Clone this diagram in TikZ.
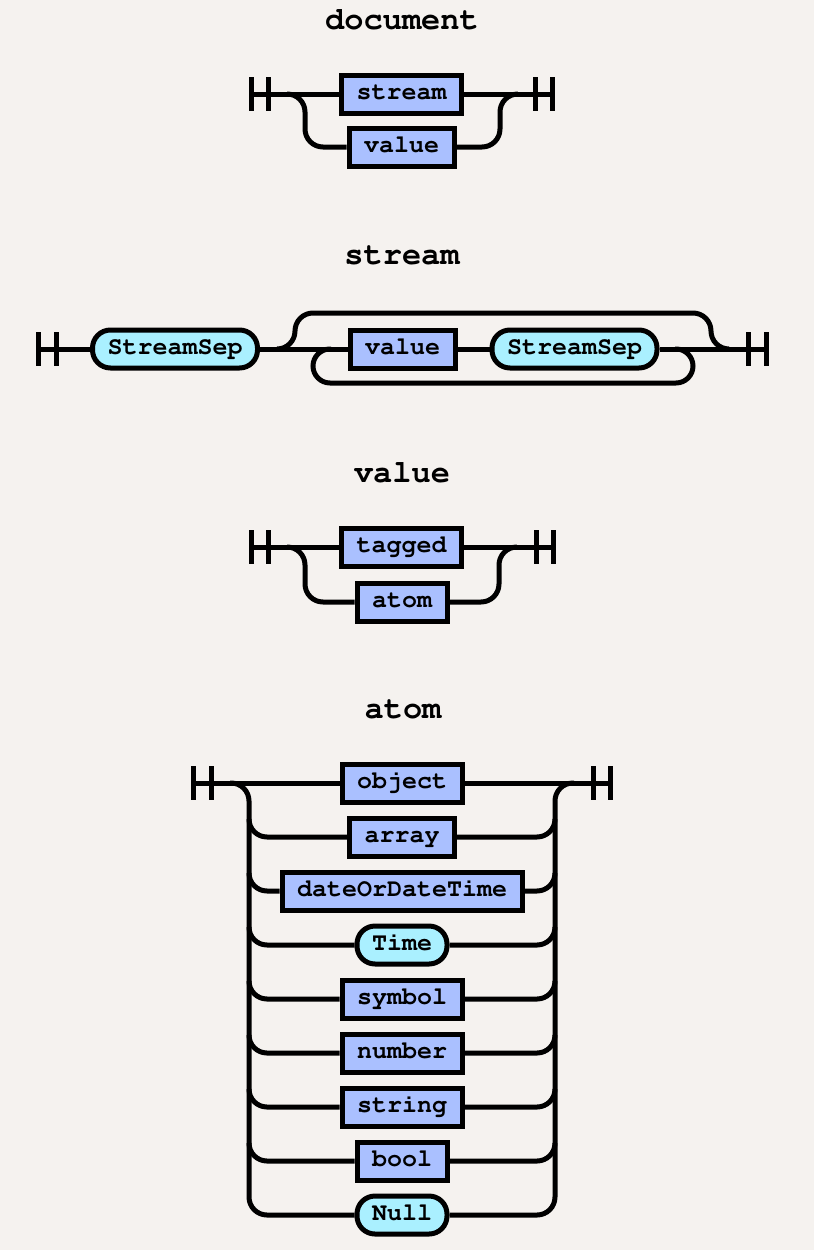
\documentclass[tikz,border=0pt]{standalone}
\usepackage[T1]{fontenc}
\usepackage{courier}
\definecolor{bg}{RGB}{245,242,239}
\definecolor{ntfill}{RGB}{170,192,255}
\definecolor{tfill}{RGB}{170,240,255}

\begin{document}
\begin{tikzpicture}[x=1pt,y=-1pt,line width=5pt,
	ntbox/.style={rectangle,draw,fill=ntfill,inner xsep=15pt,inner ysep=0pt,minimum height=38pt,
		text height=16pt,text depth=5pt,font=\fontsize{25}{30}\selectfont\ttfamily\bfseries},
	tbox/.style={ntbox,fill=tfill,rounded corners=18pt},
	heading/.style={font=\fontsize{32}{38}\selectfont\ttfamily\bfseries},
	track/.style={rounded corners=18pt}]

		\fill[bg] (0,0) rectangle (814,1250);
		\useasboundingbox (0,0) rectangle (814,1250);

		% document
		\node(t1) at (402,20)[heading]{document};
		\coordinate(d0) at (251,94);
		\coordinate(d3) at (552,94);
		\node(d1) at (401.5,94)[ntbox]{stream};
		\node(d2) at (401.5,147)[ntbox]{value};
		\draw (d0) -- (d1);
		\draw (d1) -- (d3);
		\draw[track] (287,94) -| (305,147) -- (d2.west);
		\draw[track] (d2.east) -| (500,94) -- (518,94);
		\draw ([yshift=17pt]d0) -- ([yshift=-17pt]d0);
		\draw ([xshift=17pt,yshift=17pt]d0) -- ([xshift=17pt,yshift=-17pt]d0);
		\draw ([yshift=17pt]d3) -- ([yshift=-17pt]d3);
		\draw ([xshift=-17pt,yshift=17pt]d3) -- ([xshift=-17pt,yshift=-17pt]d3);

		% stream
		\node(t2) at (402,256)[heading]{stream};
		\coordinate(s0) at (38,349);
		\coordinate(s4) at (766,349);
		\node(s1) at (175,349)[tbox]{StreamSep};
		\node(s2) at (402.5,349)[ntbox]{value};
		\node(s3) at (574.5,349)[tbox]{StreamSep};
		\draw (s0) -- (s1);
		\draw (s1) -- (s2);
		\draw (s2) -- (s3);
		\draw (s3) -- (s4);
		\draw[track] (277,349) -| (295,313) -| (711,349) -- (729,349);
		\draw[rounded corners=17pt] (675,349) -| (693,383) -| (313,349) -- (331,349);
		\draw ([yshift=17pt]s0) -- ([yshift=-17pt]s0);
		\draw ([xshift=18pt,yshift=17pt]s0) -- ([xshift=18pt,yshift=-17pt]s0);
		\draw ([yshift=17pt]s4) -- ([yshift=-17pt]s4);
		\draw ([xshift=-18pt,yshift=17pt]s4) -- ([xshift=-18pt,yshift=-17pt]s4);

		% value
		\node(t3) at (402,473)[heading]{value};
		\coordinate(v0) at (251,547);
		\coordinate(v3) at (553,547);
		\node(v1) at (401.5,547)[ntbox]{tagged};
		\node(v2) at (402,602)[ntbox]{atom};
		\draw (v0) -- (v1);
		\draw (v1) -- (v3);
		\draw[track] (287,547) -| (305,602) -- (v2.west);
		\draw[track] (v2.east) -| (499,547) -- (517,547);
		\draw ([yshift=17pt]v0) -- ([yshift=-17pt]v0);
		\draw ([xshift=17pt,yshift=17pt]v0) -- ([xshift=17pt,yshift=-17pt]v0);
		\draw ([yshift=17pt]v3) -- ([yshift=-17pt]v3);
		\draw ([xshift=-17pt,yshift=17pt]v3) -- ([xshift=-17pt,yshift=-17pt]v3);

		% atom
		\node(t4) at (403,710)[heading]{atom};
		\coordinate(a0) at (193,783);
		\coordinate(a10) at (610,783);
		\node(a1) at (402,783)[ntbox]{object};
		\node(a2) at (402,837)[ntbox]{array};
		\node(a3) at (402,891)[ntbox]{dateOrDateTime};
		\node(a4) at (402,945)[tbox]{Time};
		\node(a5) at (402,999)[ntbox]{symbol};
		\node(a6) at (402,1053)[ntbox]{number};
		\node(a7) at (402,1107)[ntbox]{string};
		\node(a8) at (402,1161)[ntbox]{bool};
		\node(a9) at (402,1215)[tbox]{Null};
		\draw (a0) -- (a1);
		\draw (a1) -- (a10);
		\draw[track] (230,783) -| (249,1215) -- (a9.west);
		\draw[track] (a9.east) -| (555,783) -- (574,783);
		\draw[track] (249,819) |- (a2.west);
		\draw[track] (249,873) |- (a3.west);
		\draw[track] (249,927) |- (a4.west);
		\draw[track] (249,981) |- (a5.west);
		\draw[track] (249,1035) |- (a6.west);
		\draw[track] (249,1089) |- (a7.west);
		\draw[track] (249,1143) |- (a8.west);
		\draw[track] (a2.east) -| (555,819);
		\draw[track] (a3.east) -| (555,873);
		\draw[track] (a4.east) -| (555,927);
		\draw[track] (a5.east) -| (555,981);
		\draw[track] (a6.east) -| (555,1035);
		\draw[track] (a7.east) -| (555,1089);
		\draw[track] (a8.east) -| (555,1143);
		\draw ([yshift=17pt]a0) -- ([yshift=-17pt]a0);
		\draw ([xshift=18pt,yshift=17pt]a0) -- ([xshift=18pt,yshift=-17pt]a0);
		\draw ([yshift=17pt]a10) -- ([yshift=-17pt]a10);
		\draw ([xshift=-17pt,yshift=17pt]a10) -- ([xshift=-17pt,yshift=-17pt]a10);

	\end{tikzpicture}
\end{document}
